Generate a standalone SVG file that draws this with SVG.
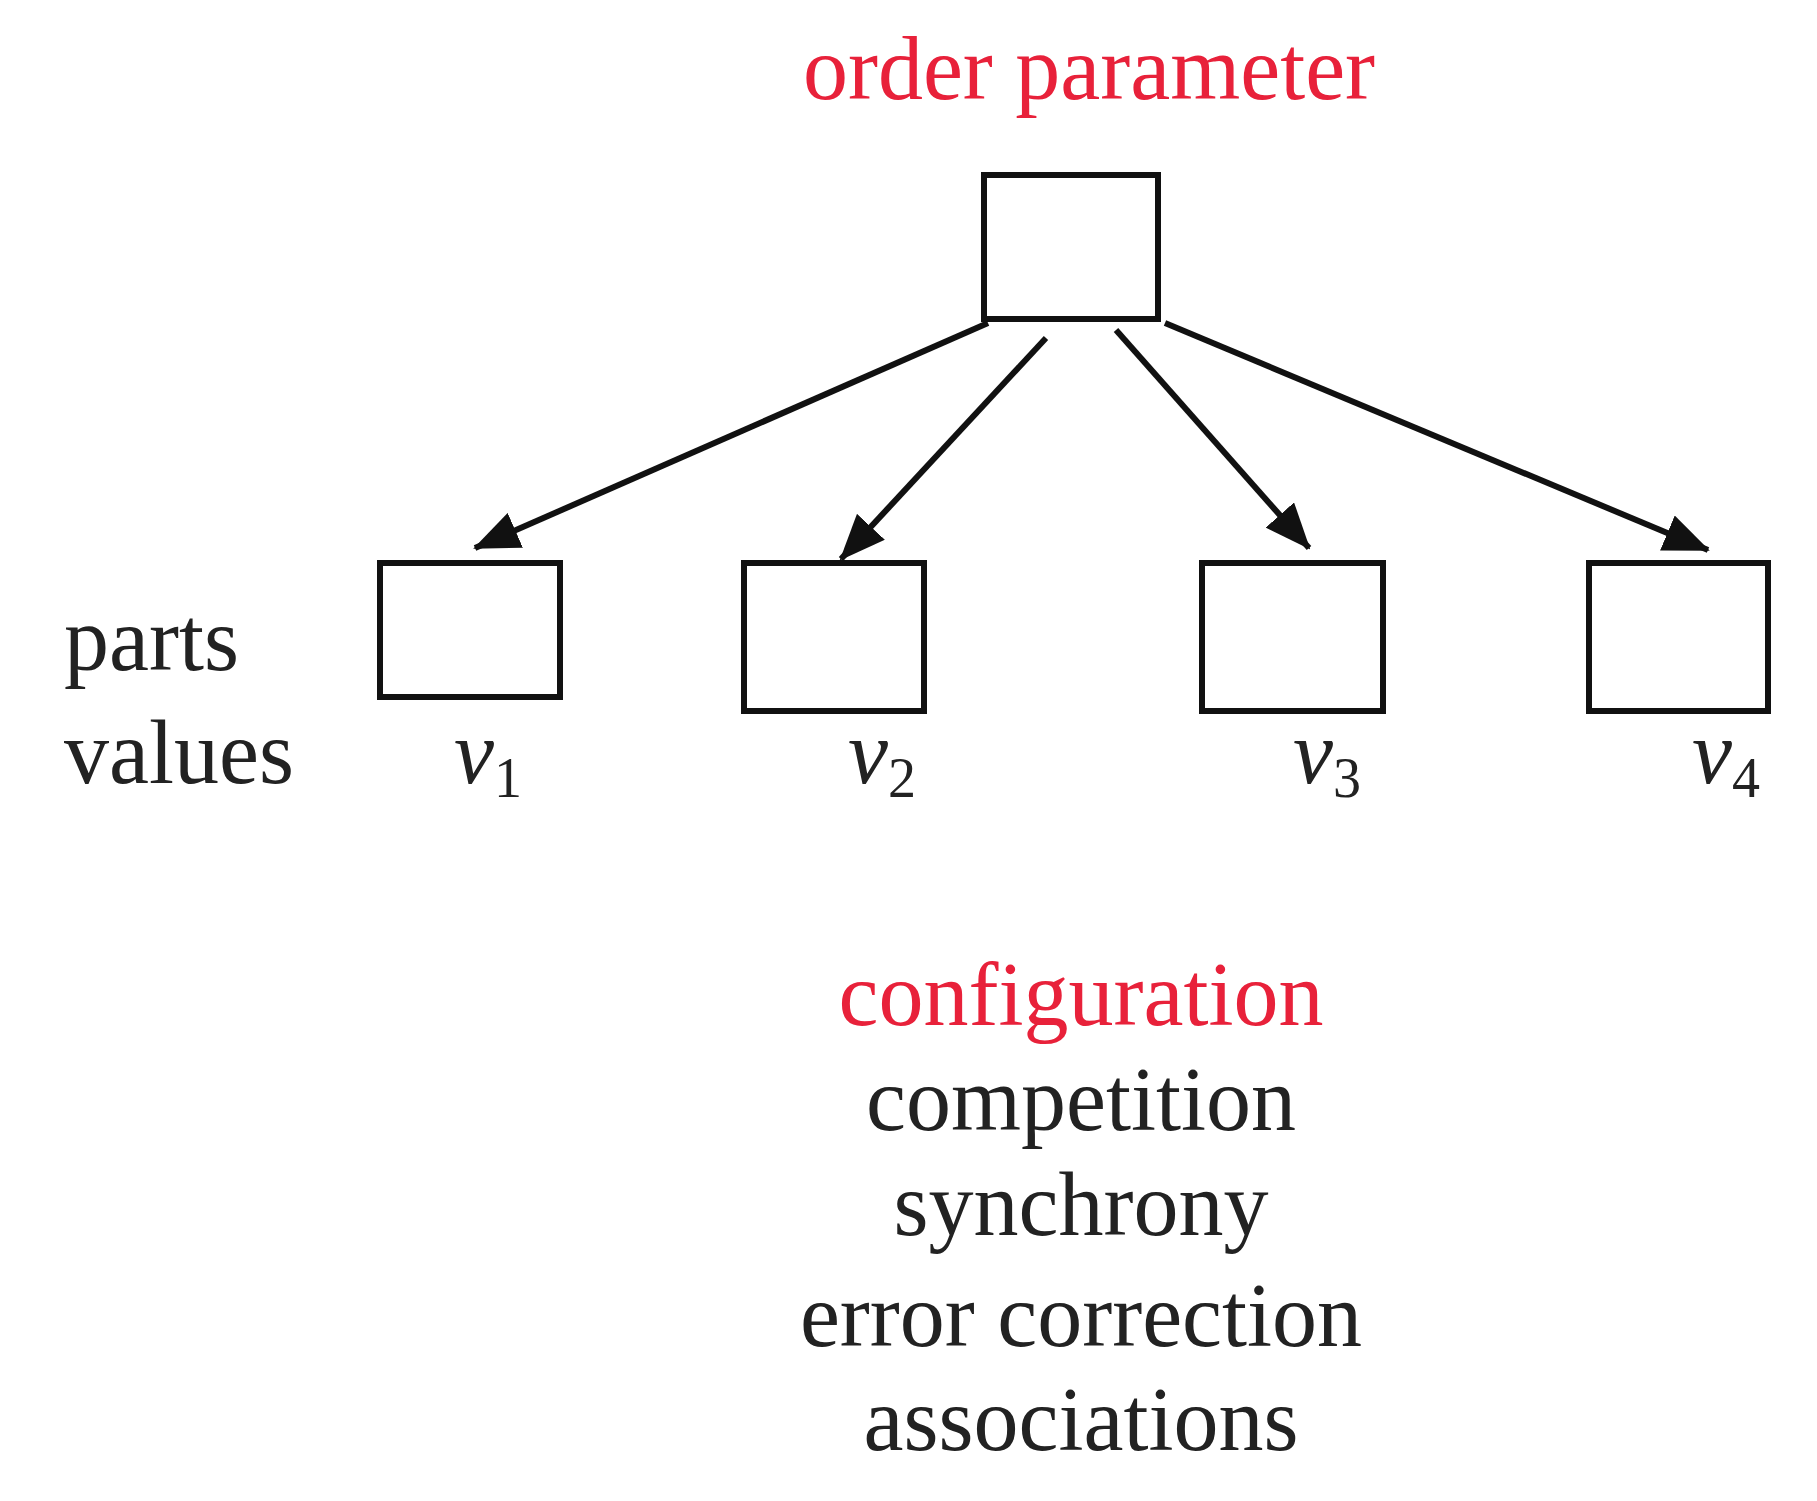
<svg xmlns="http://www.w3.org/2000/svg" width="1817" height="1501" viewBox="0 0 1817 1501">
<style>
text{font-family:"Liberation Serif","Times New Roman",serif;font-size:90px;fill:#222}
.red{fill:#e8213a}
.c{text-anchor:middle}
.box{fill:#fff;stroke:#111;stroke-width:6}
.con{stroke:#111;stroke-width:6;fill:none;marker-end:url(#ah)}
.sub{font-size:56px}
</style>
<defs><marker id="ah" markerWidth="46" markerHeight="38" refX="44" refY="19" orient="auto" markerUnits="userSpaceOnUse" viewBox="0 0 46 38"><path d="M0,0 L46,19 L0,38 z" fill="#111"/></marker></defs>
<rect width="1817" height="1501" fill="#fff"/>
<text class="red c" x="1089" y="99">order parameter</text>
<g id="top"><rect class="box" x="984" y="175" width="174" height="144"/></g>
<g id="n1"><rect class="box" x="380" y="563" width="180" height="134"/></g>
<g id="n2"><rect class="box" x="744" y="563" width="180" height="148"/></g>
<g id="n3"><rect class="box" x="1202" y="563" width="181" height="148"/></g>
<g id="n4"><rect class="box" x="1589" y="563" width="179" height="148"/></g>
<g id="connectors">
<line class="con" x1="988" y1="323" x2="475" y2="548"/>
<line class="con" x1="1046" y1="338" x2="841" y2="559"/>
<line class="con" x1="1116" y1="330" x2="1309" y2="548"/>
<line class="con" x1="1165" y1="323" x2="1708" y2="550"/>
</g>
<text x="64" y="670">parts</text>
<text x="64" y="783">values</text>
<text x="454" y="783" font-style="italic">v<tspan class="sub" font-style="normal" dy="14">1</tspan></text>
<text x="848" y="783" font-style="italic">v<tspan class="sub" font-style="normal" dy="14">2</tspan></text>
<text x="1293" y="783" font-style="italic">v<tspan class="sub" font-style="normal" dy="14">3</tspan></text>
<text x="1692" y="783" font-style="italic">v<tspan class="sub" font-style="normal" dy="14">4</tspan></text>
<text class="red c" x="1081" y="1025">configuration</text>
<text class="c" x="1081" y="1130">competition</text>
<text class="c" x="1081" y="1235">synchrony</text>
<text class="c" x="1081" y="1346">error correction</text>
<text class="c" x="1081" y="1450">associations</text>
</svg>
